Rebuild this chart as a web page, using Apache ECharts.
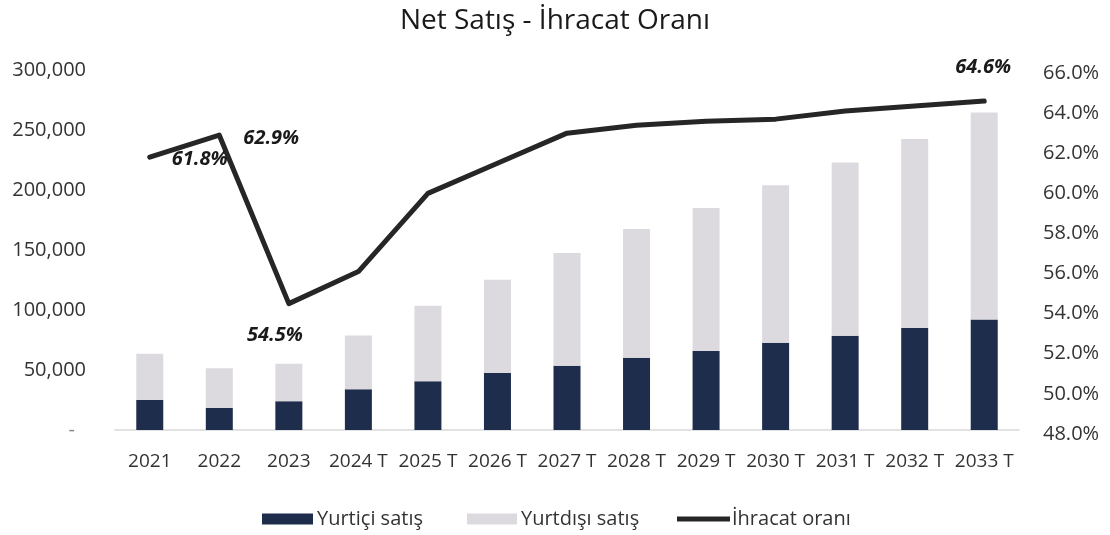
<!DOCTYPE html>
<html>
<head>
<meta charset="utf-8">
<script src="https://cdn.jsdelivr.net/npm/echarts@6/dist/echarts.min.js"></script>
<style>
html,body{margin:0;padding:0;background:#fff;}
#chart{width:1110px;height:535px;}
</style>
</head>
<body>
<div id="chart"></div>
<script>
const categories = ['2021','2022','2023','2024 T','2025 T','2026 T','2027 T','2028 T','2029 T','2030 T','2031 T','2032 T','2033 T'];
const yurtici = [25000, 18500, 24000, 34000, 40700, 47400, 53600, 60300, 65800, 72800, 78500, 85000, 92000];
const yurtdisi = [38500, 33000, 31200, 44700, 62900, 77900, 93900, 107200, 119200, 131200, 144500, 157500, 172500];
const ihracatOrani = [61.8, 62.9, 54.5, 56.1, 60.0, 61.5, 63.0, 63.4, 63.6, 63.7, 64.1, 64.35, 64.6];
const labeledPoints = [0, 1, 2, 12];
const leftTicks = [0, 50000, 100000, 150000, 200000, 250000, 300000];

const labelOffsets = {0: [50, 2], 1: [52, 3], 2: [-14, 32], 12: [-1, -34]};
const FONT = '"Open Sans", "Noto Sans", sans-serif';

const lineData = ihracatOrani.map((v, i) => {
  if (labeledPoints.indexOf(i) >= 0) {
    return {
      value: v,
      label: {
        show: true,
        position: 'inside',
        offset: labelOffsets[i],
        formatter: (p) => p.value.toFixed(1) + '%',
        fontFamily: FONT, fontSize: 20, fontWeight: 'bold', fontStyle: 'italic', color: '#1a1a1a'
      }
    };
  }
  return v;
});

const chart = echarts.init(document.getElementById('chart'), null, {renderer: 'canvas'});
chart.setOption({
  animation: false,
  backgroundColor: '#ffffff',
  title: {
    text: 'Net Satış - İhracat Oranı',
    left: 'center', top: 2,
    textStyle: {fontFamily: FONT, fontSize: 28, fontWeight: 'normal', color: '#1a1a1a'}
  },
  legend: [
    {data: ['Yurtiçi satış'], left: 257, top: 504, icon: 'rect', itemWidth: 51, itemHeight: 11, itemGap: 0,
     textStyle: {fontFamily: FONT, fontSize: 20, color: '#333', padding: [0,0,0,-1]}},
    {data: ['Yurtdışı satış'], left: 462, top: 504, icon: 'rect', itemWidth: 50, itemHeight: 11, itemGap: 0,
     textStyle: {fontFamily: FONT, fontSize: 20, color: '#333', padding: [0,0,0,-1]}},
    {data: ['İhracat oranı'], left: 672, top: 504, icon: 'rect', itemWidth: 53, itemHeight: 5, itemGap: 0,
     textStyle: {fontFamily: FONT, fontSize: 20, color: '#333', padding: [0,0,0,-3]}}
  ],
  grid: [
    {left: 115, right: 91, top: 70, bottom: 105, containLabel: false},
    {left: 115, right: 91, top: 73, bottom: 101, containLabel: false}
  ],
  xAxis: [
    {
      type: 'category', gridIndex: 0,
      data: categories,
      axisLine: {show: true, lineStyle: {color: '#d9d9d9', width: 1.5}},
      axisTick: {show: false},
      axisLabel: {interval: 0, margin: 22, fontFamily: FONT, fontSize: 19, color: '#333'}
    },
    {
      type: 'category', gridIndex: 1, data: categories,
      axisLine: {show: false}, axisTick: {show: false}, axisLabel: {show: false}
    }
  ],
  yAxis: [
    {
      type: 'value', gridIndex: 0, min: 0, max: 300000, interval: 50000,
      axisLine: {show: false}, axisTick: {show: false}, splitLine: {show: false},
      axisLabel: {
        margin: 29, fontFamily: FONT, fontSize: 20, color: '#333',
        formatter: (v) => leftTicks.indexOf(v) === 0 ? '{d|-}' : v.toLocaleString('en-US'),
        rich: {d: {fontFamily: FONT, fontSize: 20, color: '#888', padding: [0, 11, 0, 0]}}
      }
    },
    {
      type: 'value', gridIndex: 1, position: 'right', min: 48, max: 66, interval: 2,
      axisLine: {show: false}, axisTick: {show: false}, splitLine: {show: false},
      axisLabel: {margin: 24, fontFamily: FONT, fontSize: 20, color: '#333', formatter: (v) => v.toFixed(1) + '%'}
    }
  ],
  series: [
    {name: 'Yurtiçi satış', type: 'bar', stack: 'satis', data: yurtici, barWidth: 27,
     xAxisIndex: 0, yAxisIndex: 0, itemStyle: {color: '#1f2d4c'}},
    {name: 'Yurtdışı satış', type: 'bar', stack: 'satis', data: yurtdisi, barWidth: 27,
     xAxisIndex: 0, yAxisIndex: 0, itemStyle: {color: '#dcdadf'}},
    {name: 'İhracat oranı', type: 'line', xAxisIndex: 1, yAxisIndex: 1, data: lineData,
     symbol: 'circle', symbolSize: 1, showSymbol: true,
     lineStyle: {color: '#262626', width: 5, cap: 'round', join: 'round'},
     itemStyle: {color: '#262626'}, z: 5}
  ]
});
</script>
</body>
</html>
